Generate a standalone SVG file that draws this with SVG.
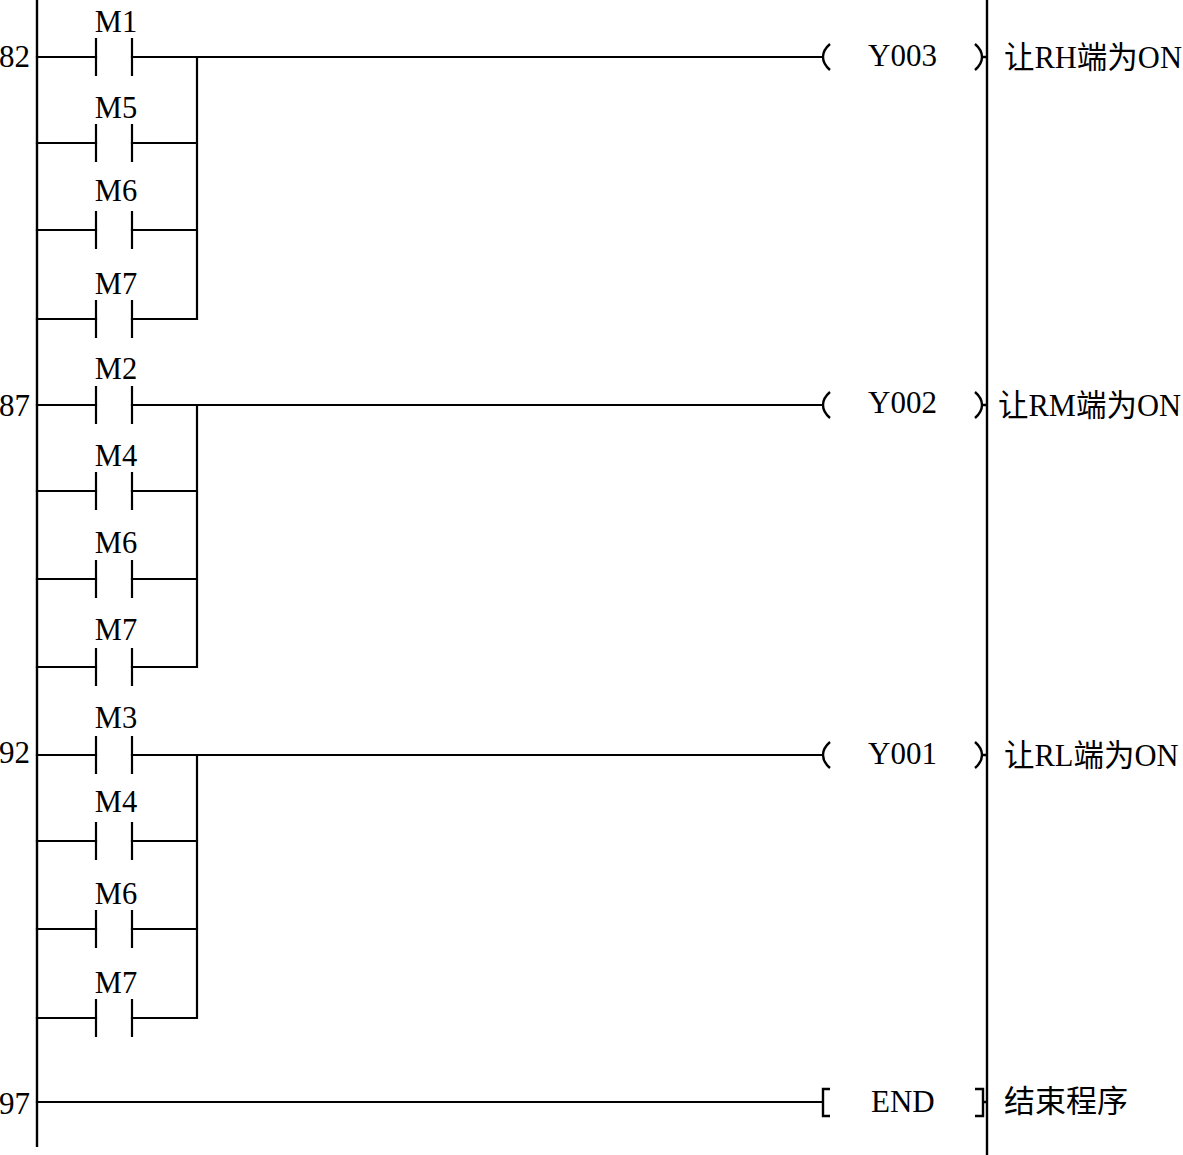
<svg xmlns="http://www.w3.org/2000/svg" width="1183" height="1155" viewBox="0 0 1183 1155">
<style>
.w{fill:none;stroke:#000;stroke-width:2.2;stroke-linecap:square}
.c{fill:none;stroke:#000;stroke-width:2.4}
text{font-family:"Liberation Serif","Noto Sans CJK SC",serif;font-size:31px;fill:#000}
.m{text-anchor:middle;font-size:30.5px}
.n{font-size:30.5px}
</style>
<defs>
<g id="contact"><path class="w" d="M96 -18V18M132 -18V18"/></g>
<path id="coil" class="c" d="M830 -13Q823 -7 823 0Q823 7 830 13M975 -13Q982 -7 982 0Q982 7 975 13M982 0H987"/>
</defs>
<g id="connectors">
<path class="c" d="M37 0V1147M987 0V1155"/>
<path class="w" d="M37 57H96M132 57H822M37 143H96M132 143H197M37 230H96M132 230H197M37 319H96M132 319H197M197 57V319"/>
<path class="w" d="M37 405H96M132 405H822M37 491H96M132 491H197M37 579H96M132 579H197M37 667H96M132 667H197M197 405V667"/>
<path class="w" d="M37 755H96M132 755H822M37 841H96M132 841H197M37 929H96M132 929H197M37 1018H96M132 1018H197M197 755V1018"/>
<path class="w" d="M37 1102H822"/>
</g>
<g id="step-82"><text x="-1" y="67">82</text></g>
<g id="step-87"><text x="-1" y="416">87</text></g>
<g id="step-92"><text x="-1" y="763">92</text></g>
<g id="step-97"><text x="-1" y="1114">97</text></g>
<g id="m1a"><use href="#contact" y="57"/><text class="m" x="116" y="32">M1</text></g>
<g id="m5a"><use href="#contact" y="143"/><text class="m" x="116" y="118">M5</text></g>
<g id="m6a"><use href="#contact" y="230"/><text class="m" x="116" y="201">M6</text></g>
<g id="m7a"><use href="#contact" y="319"/><text class="m" x="116" y="294">M7</text></g>
<g id="m2b"><use href="#contact" y="405"/><text class="m" x="116" y="379">M2</text></g>
<g id="m4b"><use href="#contact" y="491"/><text class="m" x="116" y="466">M4</text></g>
<g id="m6b"><use href="#contact" y="579"/><text class="m" x="116" y="553">M6</text></g>
<g id="m7b"><use href="#contact" y="667"/><text class="m" x="116" y="640">M7</text></g>
<g id="m3c"><use href="#contact" y="755"/><text class="m" x="116" y="728">M3</text></g>
<g id="m4c"><use href="#contact" y="841"/><text class="m" x="116" y="812">M4</text></g>
<g id="m6c"><use href="#contact" y="929"/><text class="m" x="116" y="904">M6</text></g>
<g id="m7c"><use href="#contact" y="1018"/><text class="m" x="116" y="993">M7</text></g>
<g id="y003"><use href="#coil" y="57"/><text x="868" y="66">Y003</text><text class="n" x="1004" y="68">让RH端为ON</text></g>
<g id="y002"><use href="#coil" y="405"/><text x="868" y="413">Y002</text><text class="n" x="998" y="416">让RM端为ON</text></g>
<g id="y001"><use href="#coil" y="755"/><text x="868" y="764">Y001</text><text class="n" x="1004" y="766">让RL端为ON</text></g>
<g id="end"><path class="c" d="M830 1089H823V1116H830M975 1089H983V1116H975M983 1102H987"/><text x="871" y="1112">END</text><text x="1004" y="1112">结束程序</text></g>
</svg>
